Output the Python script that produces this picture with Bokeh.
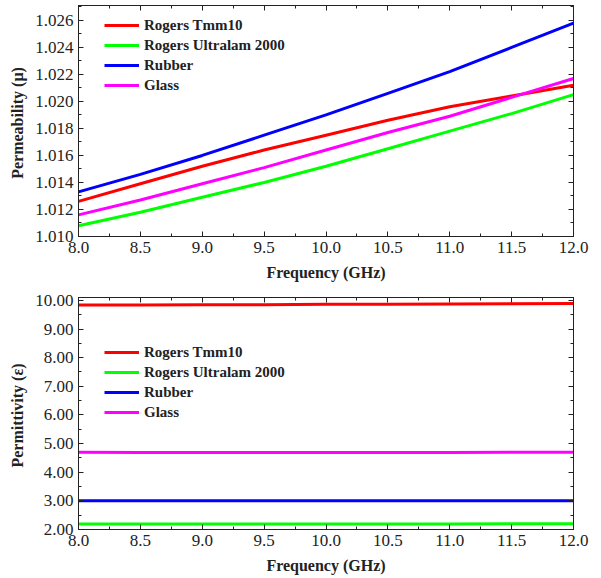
from bokeh.plotting import figure
from bokeh.layouts import column
from bokeh.models import (Range1d, LinearAxis, SingleIntervalTicker, NumeralTickFormatter,
                          Legend, LegendItem)
from bokeh.embed import file_html
from bokeh.resources import INLINE

freq = [8.0, 8.5, 9.0, 9.5, 10.0, 10.5, 11.0, 11.5, 12.0]

mu_tmm10 = [1.0126, 1.0139, 1.0152, 1.0164, 1.0175, 1.0186, 1.0196, 1.0204, 1.0212]
mu_ultralam = [1.0108, 1.0118, 1.0129, 1.0140, 1.0152, 1.0165, 1.0178, 1.0191, 1.0205]
mu_rubber = [1.0133, 1.0146, 1.0160, 1.0175, 1.0190, 1.0206, 1.0222, 1.0240, 1.0258]
mu_glass = [1.0116, 1.0127, 1.0139, 1.0151, 1.0164, 1.0177, 1.0189, 1.0203, 1.0217]

eps_tmm10 = [9.84, 9.84, 9.85, 9.85, 9.86, 9.86, 9.87, 9.88, 9.89]
eps_ultralam = [2.19, 2.19, 2.19, 2.19, 2.19, 2.19, 2.19, 2.20, 2.20]
eps_rubber = [3.0, 3.0, 3.0, 3.0, 3.0, 3.0, 3.0, 3.0, 3.0]
eps_glass = [4.70, 4.69, 4.69, 4.69, 4.69, 4.69, 4.69, 4.70, 4.70]

names = ["Rogers Tmm10", "Rogers Ultralam 2000", "Rubber", "Glass"]
colors = ["#ff0000", "#00ff00", "#0000ff", "#ff00ff"]

FONT = "Liberation Serif"


def style_axis(ax, show_labels=True):
    ax.major_tick_in = 5
    ax.major_tick_out = 0
    ax.minor_tick_in = 3
    ax.minor_tick_out = 0
    ax.axis_line_color = "#222222"
    ax.major_tick_line_color = "#222222"
    ax.minor_tick_line_color = "#222222"
    ax.major_label_text_font = FONT
    ax.major_label_text_font_size = "17px"
    ax.major_label_text_color = "#222222" if show_labels else None
    ax.axis_label_text_font = FONT
    ax.axis_label_text_font_style = "bold"
    ax.axis_label_text_font_size = "16px"
    ax.axis_label_text_color = "#222222"


def make_fig(height, yr, ylabel, yint, yfmt, series, top_border, bottom_border, legend_loc):
    p = figure(width=601, height=height, output_backend="svg", toolbar_location=None,
               x_range=Range1d(8.0, 12.0), y_range=Range1d(*yr),
               min_border_left=78, min_border_right=28,
               min_border_top=top_border, min_border_bottom=bottom_border)
    p.xgrid.visible = False
    p.ygrid.visible = False
    p.outline_line_color = "#222222"
    p.outline_line_width = 1
    p.background_fill_color = "white"

    p.xaxis.ticker = SingleIntervalTicker(interval=0.5, num_minor_ticks=2)
    p.yaxis.ticker = SingleIntervalTicker(interval=yint, num_minor_ticks=2)
    p.xaxis.formatter = NumeralTickFormatter(format="0.0")
    p.yaxis.formatter = NumeralTickFormatter(format=yfmt)
    p.xaxis.axis_label = "Frequency (GHz)"
    p.yaxis.axis_label = ylabel
    for ax in p.xaxis + p.yaxis:
        style_axis(ax)
    p.xaxis.major_label_standoff = 5
    p.yaxis.major_label_standoff = 5
    p.xaxis.axis_label_standoff = 8
    p.yaxis.axis_label_standoff = 6

    top_ax = LinearAxis(ticker=SingleIntervalTicker(interval=0.5, num_minor_ticks=2))
    right_ax = LinearAxis(ticker=SingleIntervalTicker(interval=yint, num_minor_ticks=2))
    for ax in (top_ax, right_ax):
        style_axis(ax, show_labels=False)
        ax.major_label_standoff = 0
    p.add_layout(top_ax, "above")
    p.add_layout(right_ax, "right")

    items = []
    for name, col, ys in zip(names, colors, series):
        r = p.line(freq, ys, line_color=col, line_width=3)
        items.append(LegendItem(label=name, renderers=[r]))

    leg = Legend(items=items, location=legend_loc, border_line_color=None,
                 background_fill_alpha=0, label_text_font=FONT,
                 label_text_font_style="bold", label_text_font_size="15px",
                 label_text_color="#222222",
                 glyph_width=35, glyph_height=20, label_height=20, spacing=0,
                 label_standoff=5, padding=0, margin=0)
    p.add_layout(leg)
    return p


p1 = make_fig(288, (1.010, 1.0271), "Permeability  (\u03bc)", 0.002, "0.000",
              [mu_tmm10, mu_ultralam, mu_rubber, mu_glass], 5, 52, (26, 141))
p2 = make_fig(290, (2.0, 10.10), "Permittivity  (\u03b5)", 1.0, "0.00",
              [eps_tmm10, eps_ultralam, eps_rubber, eps_glass], 9, 49, (26, 107))

layout = column(p1, p2, spacing=0)
open("out.html", "w").write(file_html(layout, INLINE))
